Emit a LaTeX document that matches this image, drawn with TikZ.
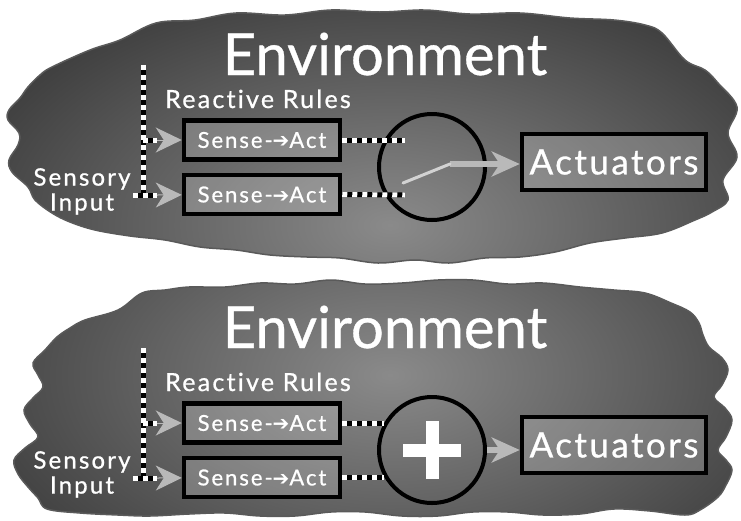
\documentclass[tikz,border=0pt]{standalone}
\usepackage{fontspec}
\setmainfont[Ligatures=NoCommon,FakeBold=0.6]{Lato}
\newfontfamily\spaced[Ligatures=NoCommon,LetterSpace=9,FakeBold=0.8]{Lato}
\newfontfamily\symbfont{DejaVu Sans}
\usetikzlibrary{arrows.meta,positioning,calc}
\definecolor{envdark}{RGB}{40,40,40}
\definecolor{envlight}{RGB}{138,138,138}
\definecolor{envrim}{RGB}{90,90,90}
\definecolor{tipgrey}{RGB}{185,185,185}
\definecolor{wiregrey}{RGB}{210,210,210}
\tikzset{
  env/.style={draw=envrim,line width=1.5pt,fill=envdark},
  title/.style={text=white,font=\fontsize{58}{58}\selectfont,anchor=base,inner sep=0pt},
  lbl/.style={text=white,font=\spaced\fontsize{25}{25}\selectfont,inner sep=0pt},
  rulebox/.style={draw=black,line width=4.5pt,fill=white,fill opacity=.2,text opacity=1,
    text=white,minimum width=156pt,minimum height=39pt,inner sep=0pt,
    font=\spaced\fontsize{22}{22}\selectfont},
  actbox/.style={rulebox,minimum width=184pt,minimum height=56pt,
    font=\spaced\addfontfeatures{LetterSpace=7}\fontsize{35}{35}\selectfont},
  mix/.style={circle,draw=black,line width=4pt,minimum size=106pt,inner sep=0pt},
  stripe/.style={draw=black,line width=5pt,
    postaction={draw=white,line width=5pt,dash pattern=on 5pt off 5pt}},
  garrow/.style={draw=tipgrey,line width=1pt,-{Stealth[length=26pt,width=25pt,inset=8pt]}},
  shaft/.style={draw=tipgrey,line width=6pt,-{Stealth[length=28pt,width=25pt,inset=8pt]}},
  wire/.style={draw=wiregrey,line width=3pt,line cap=round},
  plus/.style={draw=white,line width=13pt},
}
\newcommand{\sensact}{Sense-{\symbfont\fontsize{20}{20}\selectfont ➔}Act}

\begin{document}
\begin{tikzpicture}[x=1pt,y=-1pt]
  \fill[white] (0,0) rectangle (741,520);
  \useasboundingbox (0,0) rectangle (741,520);
  \draw[env,path picture={\shade[inner color=envlight,outer color=envdark]
      (390,225) ellipse (580pt and 330pt);}]
    plot[smooth cycle,tension=.6] coordinates {(52,67) (90,50) (120,40) (156,23)
      (195,20) (236,13) (285,15) (331,10) (380,12) (425,10) (470,14) (520,13)
      (570,18) (614,20) (645,25) (662,33) (685,60) (705,70) (718,83) (737,107)
      (728,133) (737,157) (723,180) (728,200) (712,212) (695,220) (662,233)
      (625,238) (590,243) (555,252) (520,257) (485,258) (449,263) (415,260)
      (378,263) (340,258) (307,257) (270,255) (236,250) (200,247) (165,240)
      (130,236) (95,230) (70,222) (52,213) (35,200) (28,187) (12,172) (9,160)
      (18,145) (19,133) (8,120) (9,110) (20,98) (28,87) (40,75)};
  \draw[env,path picture={\shade[inner color=envlight,outer color=envdark]
      (390,375) ellipse (580pt and 330pt);}]
    plot[smooth cycle,tension=.6] coordinates {(85,320) (118,310) (142,293)
      (165,290) (189,287) (225,287) (260,283) (295,284) (331,280) (365,284)
      (402,283) (438,280) (473,280) (508,284) (543,283) (580,287) (614,290)
      (645,293) (671,303) (690,312) (699,323) (703,335) (709,347) (722,358)
      (728,370) (722,385) (714,397) (725,408) (732,420) (726,437) (718,450)
      (726,460) (732,470) (726,485) (718,497) (700,510) (685,515) (650,511)
      (614,509) (580,514) (543,515) (508,512) (473,512) (438,516) (402,516)
      (365,512) (331,512) (295,516) (260,516) (225,513) (189,514) (150,516)
      (118,515) (80,513) (47,509) (38,498) (28,487) (18,474) (14,460) (25,448)
      (38,437) (30,424) (24,410) (33,398) (43,387) (38,375) (33,363) (45,350)
      (57,337) (70,328)};

  \node[title] (envA) at (385,75) {Environment};
  \node[title] (envB) at (385,348) {Environment};

  \node[lbl,anchor=base west] (rulesA) at (165,108) {Reactive Rules};
  \node[rulebox] (s1A) at (262,140) {\sensact};
  \node[rulebox,below=11pt of s1A] (s2A) {\sensact};
  \node[lbl,align=center,font=\spaced\fontsize{24}{25}\selectfont,anchor=north] (inA)
    at (82,168) {Sensory\\Input};
  \node[mix] (mixA) at (432,167) {};
  \node[actbox] (actA) at (614,162) {Actuators};
  \coordinate (topA) at (143,65);
  \coordinate (cornerA) at (143,197);
  \coordinate (startA) at (133,195);
  \coordinate (tip1A) at (157,140);
  \coordinate (tip2A) at (157,195);
  \coordinate (c1A) at (405,140);
  \coordinate (c2A) at (405,195);
  \coordinate (pivotA) at (403,183);
  \coordinate (hingeA) at (450,164);

  \begin{scope}[shift={(0,283)}]
    \node[lbl,anchor=base west] (rulesB) at (165,108) {Reactive Rules};
    \node[rulebox] (s1B) at (262,140) {\sensact};
    \node[rulebox,below=11pt of s1B] (s2B) {\sensact};
    \node[lbl,align=center,font=\spaced\fontsize{24}{25}\selectfont,anchor=north] (inB)
      at (82,168) {Sensory\\Input};
    \node[mix] (mixB) at (432,167) {};
    \node[actbox] (actB) at (614,162) {Actuators};
    \coordinate (topB) at (143,65);
    \coordinate (cornerB) at (143,197);
    \coordinate (startB) at (133,195);
    \coordinate (tip1B) at (157,140);
    \coordinate (tip2B) at (157,195);
  \end{scope}

  \draw[stripe] (topA) -- (cornerA);
  \draw[stripe] (topA |- tip1A) -- (tip1A);
  \draw[stripe] (startA) -- (tip2A);
  \draw[garrow] (tip1A) -- (s1A);
  \draw[garrow] (tip2A) -- (s2A);
  \draw[stripe] (s1A.east) -- (c1A);
  \draw[stripe] (s2A.east) -- (c2A);
  \draw[shaft] (hingeA) -- (hingeA -| actA.west);
  \draw[wire] (pivotA) -- (hingeA);

  \draw[stripe] (topB) -- (cornerB);
  \draw[stripe] (topB |- tip1B) -- (tip1B);
  \draw[stripe] (startB) -- (tip2B);
  \draw[garrow] (tip1B) -- (s1B);
  \draw[garrow] (tip2B) -- (s2B);
  \draw[stripe] (s1B.east) -- (s1B.east -| mixB.150);
  \draw[stripe] (s2B.east) -- (s2B.east -| mixB.210);
  \draw[shaft] (mixB.east) -- (mixB.east -| actB.west);
  \draw[plus] (mixB.center) ++(-29,0) -- ++(58,0);
  \draw[plus] (mixB.center) ++(0,-29) -- ++(0,58);
\end{tikzpicture}
\end{document}
